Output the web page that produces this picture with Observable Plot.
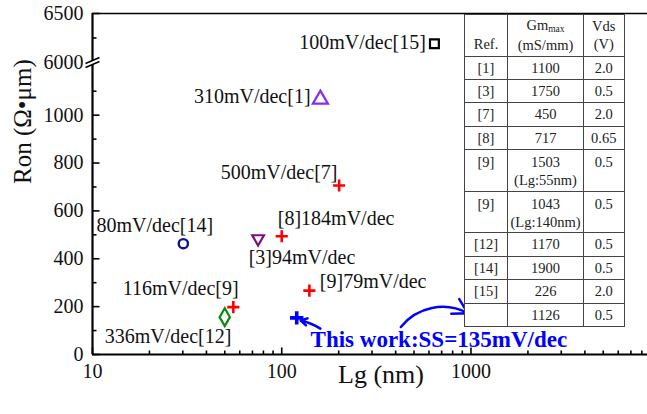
<!DOCTYPE html>
<html><head><meta charset="utf-8">
<script src="https://cdn.jsdelivr.net/npm/d3@7"></script>
<script src="https://cdn.jsdelivr.net/npm/@observablehq/plot@0.6"></script>
<style>
html,body{margin:0;padding:0;background:#fff;}
#wrap{position:relative;width:647px;height:414px;overflow:hidden;font-family:"Liberation Serif","Times New Roman",serif;}
#wrap svg text{font-family:"Liberation Serif","Times New Roman",serif;}
#tbl{position:absolute;left:464px;top:13.5px;border-collapse:collapse;background:#fff;font-size:14.5px;color:#222;font-family:"Liberation Serif","Times New Roman",serif;}
#tbl td{border:1px solid #444;text-align:center;padding:0;line-height:18px;vertical-align:middle;font-family:"Liberation Serif","Times New Roman",serif;}
#tbl td.top{vertical-align:top;padding-top:3px;}
#tbl td.bot{vertical-align:bottom;padding-bottom:3px;}
#tbl sub{font-size:9.5px;vertical-align:baseline;position:relative;top:2px;}
</style></head><body><div id="wrap"></div>
<script>
// ---- data ----
const pointRef = ["[15]", "[1]", "[7]", "[14]", "[3]", "[8]", "[9] 140nm", "[9] 55nm", "[12]", "This work"];
const pointLg  = [641, 160, 201, 30.2, 75, 100, 140, 55.5, 50, 120];       // Lg (nm)
const pointRon = [6191, 1066, 706, 463, 484, 494, 267, 198, 156, 153];     // Ron (ohm·um)

const labelText = ["100mV/dec[15]", "310mV/dec[1]", "500mV/dec[7]", "80mV/dec[14]", "[8]184mV/dec", "[3]94mV/dec", "116mV/dec[9]", "[9]79mV/dec", "336mV/dec[12]"];
const labelLg   = [578, 142, 197, 10.5, 95.3, 66.9, 59.2, 159, 11.6];
const labelRon  = [6205, 1079, 758, 539, 568, 403, 276, 306, 73];
const labelSide = ["end", "end", "end", "start", "start", "start", "end", "start", "start"];

const workText = "This work:SS=135mV/dec";
const workLg = 142, workRon = 62;

const arrowLg1  = [160, 426];
const arrowRon1 = [108, 115];
const arrowLg2  = [126, 964];
const arrowRon2 = [142, 172];

const yMajorTicks = [0, 200, 400, 600, 800, 1000, 6500];
const yMinorTicks = [100, 300, 500, 700, 900, 1100, 6250];
const yTickLabels = [0, 200, 400, 600, 800, 1000, 6000, 6500];
const xMajorTicks = [10, 100, 1000, 10000];
const xTickLabels = [10, 100, 1000];
const xMinorTicks = [20,30,40,50,60,70,80,90,200,300,400,500,600,700,800,900,2000,3000,4000,5000,6000,7000,8000,9000];

const tRef  = ["[1]","[3]","[7]","[8]","[9]","[9]","[12]","[14]","[15]",""];
const tGm   = ["1100","1750","450","717","1503","1043","1170","1900","226","1126"];
const tNote = ["","","","","(Lg:55nm)","(Lg:140nm)","","","",""];
const tVds  = ["2.0","0.5","2.0","0.65","0.5","0.5","0.5","0.5","2.0","0.5"];

// ---- symbols ----
const sym = (f) => ({draw: f});
const tickRight = sym((c) => { c.moveTo(0, 0); c.lineTo(7, 0); });
const tickRightMinor = sym((c) => { c.moveTo(0, 0); c.lineTo(4, 0); });
const tickUp = sym((c) => { c.moveTo(0, 0); c.lineTo(0, -7); });
const tickUpMinor = sym((c) => { c.moveTo(0, 0); c.lineTo(0, -4); });
const breakFill = sym((c) => { c.moveTo(-7, 1); c.lineTo(7, -5); c.lineTo(7, -1); c.lineTo(-7, 5); c.closePath(); });
const breakLines = sym((c) => { c.moveTo(-7, 1); c.lineTo(7, -5); c.moveTo(-7, 5); c.lineTo(7, -1); });
const triDown = sym((c, size) => {
  const s = Math.sqrt(size) * 0.6824, t = s / 2, u = s * Math.sqrt(3) / 2;
  c.moveTo(0, s); c.lineTo(u, -t); c.lineTo(-u, -t); c.closePath();
});

const markerStyle = [
  {symbol: "square", stroke: "#000", r: 5, sw: 2.2},
  {symbol: "triangle", stroke: "#8B2BF0", r: 5.6, sw: 2.2},
  {symbol: "plus", stroke: "#FF0000", r: 4, sw: 2.6},
  {symbol: "circle", stroke: "#10108A", r: 4.6, sw: 2.4},
  {symbol: triDown, stroke: "#7A107E", r: 5.6, sw: 2.2},
  {symbol: "plus", stroke: "#FF0000", r: 4, sw: 2.6},
  {symbol: "plus", stroke: "#FF0000", r: 4, sw: 2.6},
  {symbol: "plus", stroke: "#FF0000", r: 4, sw: 2.6},
  {symbol: "diamond", stroke: "#0A8A0A", r: 5.4, sw: 2.2},
  {symbol: "plus", stroke: "#0000FF", r: 4.4, sw: 3.6}
];

const points = pointRef.map((ref, i) => ({ref, lg: pointLg[i], ron: pointRon[i]}));
const labels = labelText.map((text, i) => ({text, lg: labelLg[i], ron: labelRon[i], side: labelSide[i]}));
const arrows = arrowLg1.map((v, i) => ({x1: v, y1: arrowRon1[i], x2: arrowLg2[i], y2: arrowRon2[i]}));

const font = "Liberation Serif";
const chart = Plot.plot({
  width: 647, height: 414,
  marginLeft: 92, marginRight: 0, marginTop: 13, marginBottom: 60,
  style: {fontFamily: font, background: "white"},
  x: {type: "log", domain: [10, 10000], range: [92, 659.7], axis: null},
  y: {type: "linear", domain: [0, 1220, 6000, 6500], range: [354, 62, 62, 13], axis: null},
  marks: [
    Plot.ruleY([6500], {stroke: "#000", strokeWidth: 1.6}),
    Plot.ruleY([0], {stroke: "#000", strokeWidth: 2.2}),
    Plot.ruleX([10], {stroke: "#000", strokeWidth: 2.2}),
    Plot.dot(yMajorTicks, {x: () => 10, y: d => d, symbol: tickRight, r: 1, stroke: "#000", strokeWidth: 1.6, fill: "none"}),
    Plot.dot(yMinorTicks, {x: () => 10, y: d => d, symbol: tickRightMinor, r: 1, stroke: "#000", strokeWidth: 1.6, fill: "none"}),
    Plot.dot(xMajorTicks, {x: d => d, y: () => 0, symbol: tickUp, r: 1, stroke: "#000", strokeWidth: 1.6, fill: "none"}),
    Plot.dot(xMinorTicks, {x: d => d, y: () => 0, symbol: tickUpMinor, r: 1, stroke: "#000", strokeWidth: 1.6, fill: "none"}),
    Plot.dot([6000], {x: () => 10, y: d => d, symbol: breakFill, r: 1, fill: "white", stroke: "none"}),
    Plot.dot([6000], {x: () => 10, y: d => d, symbol: breakLines, r: 1, fill: "none", stroke: "#000", strokeWidth: 1.6}),
    Plot.text(yTickLabels, {x: () => 10, y: d => d, text: d => String(d), textAnchor: "end", dx: -9, fontSize: 20, fill: "#111"}),
    Plot.text(xTickLabels, {x: d => d, y: () => 0, text: d => String(d), dy: 17, fontSize: 20, fill: "#111"}),
    Plot.text(["Lg (nm)"], {frameAnchor: "bottom", text: d => d, dx: 11, dy: 28, fontSize: 26, fill: "#111"}),
    Plot.text(["Ron (Ω•μm)"], {frameAnchor: "left", text: d => d, dx: -70, rotate: -90, fontSize: 25, fill: "#111"}),
    ...points.map((p, i) => Plot.dot([p], {x: "lg", y: "ron", symbol: markerStyle[i].symbol, r: markerStyle[i].r, stroke: markerStyle[i].stroke, strokeWidth: markerStyle[i].sw, fill: "none"})),
    Plot.text(labels.filter(d => d.side === "start"), {x: "lg", y: "ron", text: "text", textAnchor: "start", fontSize: 20, fill: "#111"}),
    Plot.text(labels.filter(d => d.side === "end"), {x: "lg", y: "ron", text: "text", textAnchor: "end", fontSize: 20, fill: "#111"}),
    Plot.text([workText], {x: () => workLg, y: () => workRon, text: d => d, textAnchor: "start", fontSize: 23, fontWeight: "bold", fill: "#0000FF"}),
    Plot.arrow(arrows.slice(0, 1), {x1: "x1", y1: "y1", x2: "x2", y2: "y2", bend: -10, stroke: "#0000FF", strokeWidth: 2.5, headLength: 9}),
    Plot.arrow(arrows.slice(1), {x1: "x1", y1: "y1", x2: "x2", y2: "y2", bend: 40, stroke: "#0000FF", strokeWidth: 2.5, headLength: 10})
  ]
});
const wrap = document.getElementById("wrap");
wrap.appendChild(chart);

// ---- inset table ----
const colW = [43, 76, 40.5];
const rowH = [42, 23.4, 23.4, 23.4, 23.4, 42, 41, 23.5, 23.5, 23.5, 23.5];
let html = `<table id="tbl"><colgroup>${colW.map(w => `<col style="width:${w}px">`).join("")}</colgroup>`;
html += `<tr style="height:${rowH[0]}px"><td class="bot">Ref.</td><td>Gm<sub>max</sub><br>(mS/mm)</td><td>Vds<br>(V)</td></tr>`;
tRef.forEach((r, i) => {
  const h = rowH[i + 1];
  if (tNote[i]) {
    html += `<tr style="height:${h}px"><td class="top">${r}</td><td class="top">${tGm[i]}<br>${tNote[i]}</td><td class="top">${tVds[i]}</td></tr>`;
  } else {
    html += `<tr style="height:${h}px"><td>${r}</td><td>${tGm[i]}</td><td>${tVds[i]}</td></tr>`;
  }
});
html += `</table>`;
wrap.insertAdjacentHTML("beforeend", html);
</script></body></html>
